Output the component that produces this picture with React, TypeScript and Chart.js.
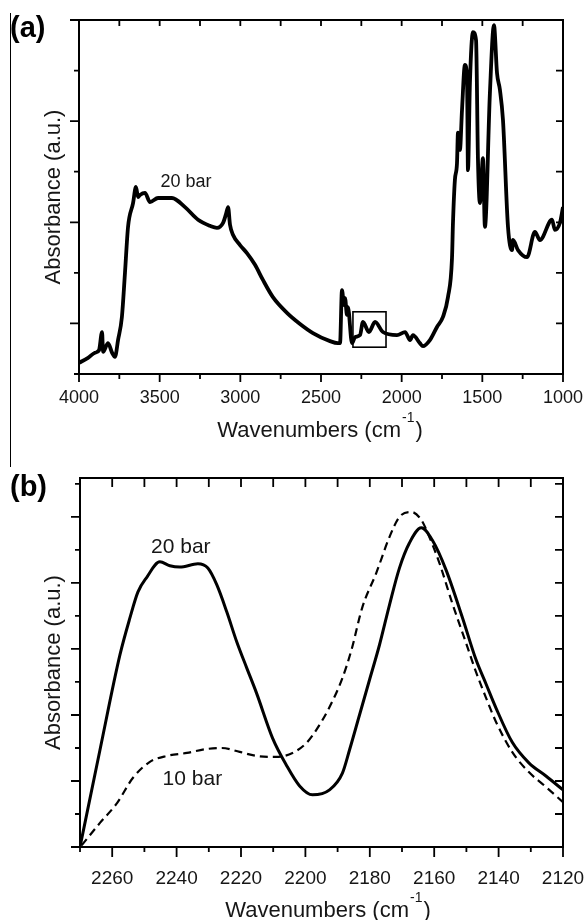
import React, { useEffect, useRef } from "react";
import { Chart, registerables } from "chart.js";

Chart.register(...registerables);

const FONT = "'Liberation Sans', Arial, Helvetica, sans-serif";
const INK = "#000";
const TEXT = "#161616";

// ---------- Panel (a): full spectrum, 20 bar ----------
const WAVENUMBERS_A = [
  4000, 3944, 3901, 3876, 3857, 3851, 3820, 3795, 3777, 3758, 3734, 3715, 3696, 3665, 3647, 3634,
  3622, 3591, 3560, 3510, 3424, 3343, 3262, 3188, 3145, 3107, 3089, 3076, 3064, 3045, 3002, 2959,
  2909, 2860, 2798, 2711, 2630, 2550, 2444, 2395, 2382, 2370, 2357, 2351, 2339, 2333, 2308, 2289,
  2258, 2240, 2203, 2165, 2116, 2029, 1979, 1948, 1930, 1887, 1868, 1825, 1781, 1744, 1713, 1688,
  1682, 1670, 1657, 1651, 1639, 1626, 1608, 1595, 1589, 1577, 1558, 1539, 1527, 1515, 1496, 1484,
  1453, 1428, 1409, 1391, 1372, 1341, 1316, 1310, 1279, 1223, 1174, 1143, 1068, 1050, 1019, 1000,
];
const ABSORBANCE_A_20BAR = [
  0.22, 0.32, 0.42, 0.47, 0.83, 0.44, 0.61, 0.42, 0.34, 0.67, 1.13, 2.0, 2.91, 3.38, 3.7, 3.5,
  3.54, 3.58, 3.4, 3.48, 3.48, 3.3, 3.05, 2.93, 2.89, 2.99, 3.16, 3.3, 2.95, 2.75, 2.55, 2.39,
  2.16, 1.86, 1.52, 1.21, 0.99, 0.81, 0.65, 0.61, 0.61, 1.66, 1.36, 1.5, 1.17, 1.32, 0.61, 0.73,
  0.77, 1.03, 0.83, 1.03, 0.83, 0.77, 0.83, 0.67, 0.77, 0.61, 0.55, 0.67, 0.93, 1.13, 1.52, 2.29,
  2.99, 3.84, 4.17, 4.77, 4.43, 5.22, 6.11, 5.87, 4.03, 5.75, 6.76, 6.6, 4.23, 3.38, 4.27, 2.91,
  5.56, 6.9, 5.95, 5.62, 5.02, 2.91, 2.45, 2.65, 2.45, 2.31, 2.81, 2.65, 3.05, 2.85, 2.99, 3.3,
];
const X_TICKS_A = [4000, 3500, 3000, 2500, 2000, 1500, 1000];
const X_MINOR_A = [3750, 3250, 2750, 2250, 1750, 1250];
const X_TOP_A = [3750, 3500, 3250, 3000, 2750, 2500, 2250, 2000, 1750, 1500, 1250];
const Y_MAJOR_A = [1, 3, 5, 7];
const Y_MINOR_A = [0, 2, 4, 6];
const Y_RIGHT_A = [1, 2, 3, 4, 5, 6];
const ZOOM_BOX_A = { x1: 2302, x2: 2097, y1: 0.53, y2: 1.23 };
const LABELS_A = [{ text: "20 bar", x: 3337, y: 3.7 }];

// ---------- Panel (b): 2270-2120 cm-1 detail ----------
const WAVENUMBERS_B_20BAR = [
  2270, 2263.8, 2257.6, 2254.5, 2252.0, 2249.2, 2245.2, 2242.1, 2239.0, 2233.4, 2230.3, 2227.5,
  2224.4, 2221.3, 2218.2, 2215.2, 2210.2, 2205.9, 2201.8, 2197.8, 2192.5, 2188.5, 2186.3, 2183.2,
  2180.1, 2177.0, 2173.9, 2170.8, 2167.7, 2164.0, 2160.6, 2156.3, 2151.3, 2147.0, 2143.9, 2140.8,
  2135.8, 2130.6, 2125.3, 2120,
];
const ABSORBANCE_B_20BAR = [
  0, 2.94, 5.82, 6.94, 7.73, 8.18, 8.64, 8.52, 8.48, 8.58, 8.45, 7.94, 7.12, 6.21, 5.42, 4.67, 3.3,
  2.48, 1.85, 1.58, 1.73, 2.24, 2.94, 4.0, 5.06, 6.12, 7.33, 8.45, 9.21, 9.67, 9.3, 8.39, 6.97,
  5.67, 4.94, 4.21, 3.18, 2.55, 2.15, 1.73,
];
const WAVENUMBERS_B_10BAR = [
  2269.5, 2263.8, 2258.5, 2253.6, 2248.3, 2243.0, 2236.8, 2230.6, 2226.0, 2220.4, 2215.2, 2209.0,
  2204.0, 2199.7, 2196.6, 2192.5, 2188.5, 2185.7, 2182.3, 2178.0, 2173.9, 2170.8, 2167.1, 2164.0,
  2161.5, 2158.4, 2154.4, 2150.1, 2147.0, 2143.9, 2140.8, 2135.8, 2130.6, 2125.3, 2120,
];
const ABSORBANCE_B_10BAR = [
  0.05, 0.73, 1.33, 2.09, 2.58, 2.76, 2.85, 2.97, 3.0, 2.88, 2.76, 2.73, 2.85, 3.15, 3.55, 4.24,
  5.12, 5.97, 7.27, 8.3, 9.39, 10.0, 10.15, 9.91, 9.39, 8.61, 7.39, 6.18, 5.3, 4.52, 3.79, 2.88,
  2.27, 1.82, 1.36,
];
const X_TICKS_B = [2260, 2240, 2220, 2200, 2180, 2160, 2140, 2120];
const X_MINOR_B = [2270, 2250, 2230, 2210, 2190, 2170, 2150, 2130];
const X_TOP_B = [2260, 2250, 2240, 2230, 2220, 2210, 2200, 2190, 2180, 2170, 2160, 2150, 2140, 2130];
const Y_MAJOR_B = [0, 2, 4, 6, 8, 10];
const Y_MINOR_B = [1, 3, 5, 7, 9, 11];
const Y_RIGHT_B = [1, 2, 3, 4, 5, 6, 7, 8, 9, 10, 11];
const LABELS_B = [
  { text: "20 bar", x: 2238.7, y: 8.91 },
  { text: "10 bar", x: 2235.1, y: 1.88 },
];

const Y_TITLE = "Absorbance (a.u.)";
const X_TITLE_MAIN = "Wavenumbers (cm";
const X_TITLE_SUP = "-1";
const X_TITLE_END = ")";

function pts(xs: number[], ys: number[]) {
  return xs.map((x, i) => ({ x, y: ys[i] }));
}

type Spec = {
  panel: string;
  panelBaseline: number;
  bottomMajor: number[];
  bottomMajorLen: number;
  bottomMinor: number[];
  bottomMinorLen: number;
  topTicks: number[];
  topLen: number;
  leftMajor: number[];
  leftMajorLen: number;
  leftMinor: number[];
  leftMinorLen: number;
  rightTicks: number[];
  rightLen: number;
  box?: { x1: number; x2: number; y1: number; y2: number };
  labels: { text: string; x: number; y: number }[];
  labelSize: number;
  yTitleBaselineX: number;
  xTitleCx: number;
  xTitleBaseline: number;
};

function decorPlugin(spec: Spec) {
  return {
    id: "decor",
    afterDatasetsDraw(chart: any) {
      const ctx: CanvasRenderingContext2D = chart.ctx;
      const { left, right, top, bottom } = chart.chartArea;
      const xs = chart.scales.x;
      const ys = chart.scales.y;
      const px = (v: number) => xs.getPixelForValue(v);
      const py = (v: number) => ys.getPixelForValue(v);
      ctx.save();
      ctx.strokeStyle = INK;
      ctx.lineCap = "butt";
      ctx.lineWidth = 1.8;
      ctx.beginPath();
      spec.bottomMajor.forEach((v) => {
        const p = px(v);
        ctx.moveTo(p, bottom);
        ctx.lineTo(p, bottom + spec.bottomMajorLen);
      });
      spec.bottomMinor.forEach((v) => {
        const p = px(v);
        ctx.moveTo(p, bottom);
        ctx.lineTo(p, bottom + spec.bottomMinorLen);
      });
      spec.topTicks.forEach((v) => {
        const p = px(v);
        ctx.moveTo(p, top);
        ctx.lineTo(p, top + spec.topLen);
      });
      spec.leftMajor.forEach((v) => {
        const p = py(v);
        ctx.moveTo(left, p);
        ctx.lineTo(left - spec.leftMajorLen, p);
      });
      spec.leftMinor.forEach((v) => {
        const p = py(v);
        ctx.moveTo(left, p);
        ctx.lineTo(left - spec.leftMinorLen, p);
      });
      spec.rightTicks.forEach((v) => {
        const p = py(v);
        ctx.moveTo(right, p);
        ctx.lineTo(right - spec.rightLen, p);
      });
      ctx.stroke();

      ctx.lineWidth = 2;
      ctx.strokeRect(left, top, right - left, bottom - top);

      if (spec.box) {
        const b = spec.box;
        ctx.lineWidth = 1.6;
        const x1 = px(b.x1);
        const x2 = px(b.x2);
        const y1 = py(b.y1);
        const y2 = py(b.y2);
        ctx.strokeRect(Math.min(x1, x2), Math.min(y1, y2), Math.abs(x2 - x1), Math.abs(y2 - y1));
      }

      ctx.fillStyle = TEXT;
      ctx.textAlign = "center";
      ctx.textBaseline = "alphabetic";
      ctx.font = `${spec.labelSize}px ${FONT}`;
      spec.labels.forEach((l) => ctx.fillText(l.text, px(l.x), py(l.y)));

      // y title
      ctx.save();
      ctx.translate(spec.yTitleBaselineX, (top + bottom) / 2);
      ctx.rotate(-Math.PI / 2);
      ctx.font = `22px ${FONT}`;
      ctx.fillText(Y_TITLE, 0, 0);
      ctx.restore();

      // x title with superscript
      ctx.textAlign = "left";
      ctx.font = `22px ${FONT}`;
      const w1 = ctx.measureText(X_TITLE_MAIN).width;
      const w3 = ctx.measureText(X_TITLE_END).width;
      ctx.font = `14px ${FONT}`;
      const w2 = ctx.measureText(X_TITLE_SUP).width;
      let x = spec.xTitleCx - (w1 + w2 + w3 + 2) / 2;
      ctx.font = `22px ${FONT}`;
      ctx.fillText(X_TITLE_MAIN, x, spec.xTitleBaseline);
      x += w1 + 1;
      ctx.font = `14px ${FONT}`;
      ctx.fillText(X_TITLE_SUP, x, spec.xTitleBaseline - 15);
      x += w2 + 1;
      ctx.font = `22px ${FONT}`;
      ctx.fillText(X_TITLE_END, x, spec.xTitleBaseline);

      // panel label
      ctx.font = `bold 29px ${FONT}`;
      ctx.fillStyle = "#000";
      ctx.fillText(spec.panel, 10, spec.panelBaseline);
      ctx.restore();
    },
  };
}

function fixX(height: number) {
  return (s: any) => {
    s.height = height;
    s.paddingLeft = 0;
    s.paddingRight = 0;
    s.paddingTop = 0;
    s.paddingBottom = 0;
  };
}

function buildA(): any {
  return {
    type: "line",
    data: {
      datasets: [
        {
          data: pts(WAVENUMBERS_A, ABSORBANCE_A_20BAR),
          borderColor: INK,
          borderWidth: 3.8,
          pointRadius: 0,
          fill: false,
          cubicInterpolationMode: "monotone",
          borderJoinStyle: "round",
        },
      ],
    },
    options: {
      animation: false,
      responsive: false,
      devicePixelRatio: 1,
      layout: { padding: { left: 79, right: 22, top: 20, bottom: 0 } },
      plugins: { legend: { display: false }, tooltip: { enabled: false } },
      scales: {
        x: {
          type: "linear",
          min: 1000,
          max: 4000,
          reverse: true,
          afterBuildTicks: (s: any) => {
            s.ticks = X_TICKS_A.map((v) => ({ value: v }));
          },
          afterFit: fixX(86),
          grid: { display: false },
          border: { display: false },
          ticks: {
            autoSkip: false,
            maxRotation: 0,
            padding: 5,
            color: TEXT,
            font: { family: FONT, size: 18 },
            callback: (v: any) => String(v),
          },
        },
        y: { type: "linear", display: false, min: 0, max: 7 },
      },
    },
    plugins: [
      decorPlugin({
        panel: "(a)",
        panelBaseline: 37,
        bottomMajor: X_TICKS_A,
        bottomMajorLen: 8,
        bottomMinor: X_MINOR_A,
        bottomMinorLen: 5,
        topTicks: X_TOP_A,
        topLen: 6,
        leftMajor: Y_MAJOR_A,
        leftMajorLen: 9,
        leftMinor: Y_MINOR_A,
        leftMinorLen: 5,
        rightTicks: Y_RIGHT_A,
        rightLen: 7,
        box: ZOOM_BOX_A,
        labels: LABELS_A,
        labelSize: 18,
        yTitleBaselineX: 59.5,
        xTitleCx: 320,
        xTitleBaseline: 437,
      }),
    ],
  };
}

function buildB(): any {
  return {
    type: "line",
    data: {
      datasets: [
        {
          data: pts(WAVENUMBERS_B_20BAR, ABSORBANCE_B_20BAR),
          borderColor: INK,
          borderWidth: 3,
          pointRadius: 0,
          fill: false,
          cubicInterpolationMode: "monotone",
        },
        {
          data: pts(WAVENUMBERS_B_10BAR, ABSORBANCE_B_10BAR),
          borderColor: INK,
          borderWidth: 2.2,
          borderDash: [8, 5],
          pointRadius: 0,
          fill: false,
          cubicInterpolationMode: "monotone",
        },
      ],
    },
    options: {
      animation: false,
      responsive: false,
      devicePixelRatio: 1,
      layout: { padding: { left: 80, right: 22, top: 18, bottom: 0 } },
      plugins: { legend: { display: false }, tooltip: { enabled: false } },
      scales: {
        x: {
          type: "linear",
          min: 2120,
          max: 2270,
          reverse: true,
          afterBuildTicks: (s: any) => {
            s.ticks = X_TICKS_B.map((v) => ({ value: v }));
          },
          afterFit: fixX(73),
          grid: { display: false },
          border: { display: false },
          ticks: {
            autoSkip: false,
            maxRotation: 0,
            padding: 12,
            color: TEXT,
            font: { family: FONT, size: 19 },
            callback: (v: any) => String(v),
          },
        },
        y: { type: "linear", display: false, min: 0, max: 11.18 },
      },
    },
    plugins: [
      decorPlugin({
        panel: "(b)",
        panelBaseline: 36,
        bottomMajor: X_TICKS_B,
        bottomMajorLen: 10,
        bottomMinor: X_MINOR_B,
        bottomMinorLen: 5,
        topTicks: X_TOP_B,
        topLen: 9,
        leftMajor: Y_MAJOR_B,
        leftMajorLen: 9,
        leftMinor: Y_MINOR_B,
        leftMinorLen: 5,
        rightTicks: Y_RIGHT_B,
        rightLen: 8,
        labels: LABELS_B,
        labelSize: 21,
        yTitleBaselineX: 59.5,
        xTitleCx: 328,
        xTitleBaseline: 457,
      }),
    ],
  };
}

function ChartCanvas({ build, top }: { build: () => any; top: number }) {
  const ref = useRef<HTMLCanvasElement | null>(null);
  useEffect(() => {
    if (!ref.current) return;
    const chart = new Chart(ref.current, build());
    return () => chart.destroy();
  }, [build]);
  return (
    <canvas
      ref={ref}
      width={585}
      height={460}
      style={{ position: "absolute", left: 0, top, width: 585, height: 460, display: "block" }}
    />
  );
}

export default function App() {
  return (
    <div
      style={{
        position: "absolute",
        left: 0,
        top: 0,
        width: 585,
        height: 920,
        background: "#fff",
        overflow: "hidden",
      }}
    >
      <ChartCanvas build={buildA} top={0} />
      <ChartCanvas build={buildB} top={460} />
      <div
        style={{
          position: "absolute",
          left: 10,
          top: 13,
          width: 1,
          height: 454,
          background: "#000",
        }}
      />
    </div>
  );
}
